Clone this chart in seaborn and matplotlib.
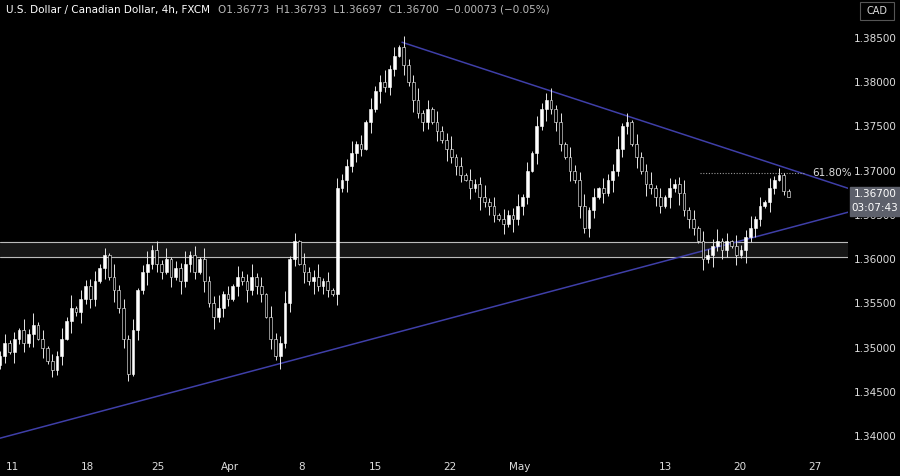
import numpy as np
import pandas as pd
import matplotlib
matplotlib.use("Agg")
import matplotlib.pyplot as plt
import seaborn as sns

# closes in pips (1.3490 -> 13490), one candle every ~8h
close_pips = [13490, 13505, 13495, 13510, 13520, 13505, 13515, 13525, 13510, 13500,
              13485, 13475, 13490, 13510, 13530, 13545, 13540, 13555, 13570, 13555,
              13575, 13590, 13605, 13580, 13565, 13545, 13510, 13470, 13520, 13565,
              13585, 13595, 13610, 13595, 13585, 13600, 13580, 13590, 13575, 13595,
              13605, 13585, 13600, 13575, 13550, 13535, 13545, 13560, 13555, 13570,
              13580, 13575, 13565, 13580, 13570, 13560, 13535, 13510, 13490, 13505,
              13550, 13600, 13620, 13595, 13585, 13575, 13580, 13570, 13575, 13565,
              13560, 13680, 13690, 13705, 13720, 13730, 13725, 13755, 13770, 13790,
              13800, 13795, 13815, 13830, 13840, 13820, 13800, 13780, 13765, 13755,
              13770, 13755, 13745, 13735, 13725, 13715, 13705, 13695, 13690, 13680,
              13685, 13670, 13665, 13660, 13650, 13645, 13640, 13650, 13645, 13660,
              13670, 13700, 13720, 13750, 13770, 13780, 13770, 13755, 13730, 13715,
              13700, 13690, 13660, 13635, 13655, 13670, 13680, 13675, 13690, 13700,
              13725, 13750, 13755, 13730, 13715, 13700, 13685, 13680, 13670, 13660,
              13670, 13680, 13685, 13675, 13655, 13645, 13635, 13620, 13600, 13605,
              13615, 13620, 13610, 13620, 13615, 13605, 13610, 13625, 13635, 13645,
              13660, 13665, 13680, 13690, 13695, 13677]
open_first = 13480
# wick lengths, 2 pips per digit
wick_up = "3524163725143627153462417352614735261437251634725163472516347251634" \
          "7251634725163472516347251634725163472516347251634725163472516347251" \
          "63472516347251634725163472516241"
wick_dn = "2416352716243517263541627354162735416273541627354162735416273541627" \
          "3541627354162735416273541627354162735416273541627354162735416273541" \
          "62735416273541627354162735416312"
last_bar = [1.36773, 1.36793, 1.36697, 1.36700]  # open, high, low, close

y_ticks = [1.340, 1.345, 1.350, 1.355, 1.360, 1.365, 1.370, 1.375, 1.380, 1.385]
x_labels = ["11", "18", "25", "Apr", "8", "15", "22", "May", "13", "20", "27"]
x_label_px = [12, 87, 158, 230, 302, 375, 450, 520, 665, 740, 815]

closes = np.array(close_pips) / 10000
opens = np.concatenate([[open_first / 10000], closes[:-1]])
n = len(closes)
up = np.array([int(c) for c in wick_up[:n]]) * 0.0002
dn = np.array([int(c) for c in wick_dn[:n]]) * 0.0002
df = pd.DataFrame({"k": np.arange(n), "open": opens, "close": closes})
df["high"] = df[["open", "close"]].max(axis=1) + up
df["low"] = df[["open", "close"]].min(axis=1) - dn
# append the live bar
df.loc[n] = [n, *last_bar[:1], last_bar[3], last_bar[1], last_bar[2]]

sns.set_theme(style="dark", rc={"axes.facecolor": "#000000", "figure.facecolor": "#000000"})
plt.rcParams["font.family"] = ["DejaVu Sans"]

fig = plt.figure(figsize=(9, 4.76), dpi=100)
ax = fig.add_axes([0, 21 / 476, 848 / 900, 455 / 476])
px = 4.75  # pixels per candle
ax.set_xlim(0, 848 / px)
ymin = 1.3850 - (455 - 38) / 8844
ymax = 1.3850 + 38 / 8844
ax.set_ylim(ymin, ymax)

# support zone
ax.axhspan(1.36022, 1.36192, color="#161616", zorder=0)
ax.axhline(1.36192, color="#bbbbbb", lw=0.8, zorder=1)
ax.axhline(1.36022, color="#bbbbbb", lw=0.8, zorder=1)

# trend lines
tl = pd.DataFrame({"k": [402 / px, 848 / px], "p": [1.38452, 1.36801]})
bl = pd.DataFrame({"k": [0, 848 / px], "p": [1.33975, 1.36530]})
sns.lineplot(data=tl, x="k", y="p", ax=ax, color="#3f3fa8", lw=1.1, zorder=2)
sns.lineplot(data=bl, x="k", y="p", ax=ax, color="#3f3fa8", lw=1.1, zorder=2)

# fib level
ax.hlines(1.36975, 700 / px, 805 / px, color="#999999", lw=0.8, linestyles=(0, (1, 1.5)), zorder=2)
ax.text(812 / px, 1.36975, "61.80%", color="#dddddd", fontsize=7.5, va="center", zorder=5)

# candles
ax.vlines(df["k"], df["low"], df["high"], color="#e6e6e6", lw=0.7, zorder=3)
bull = df["close"] >= df["open"]
h = (df["close"] - df["open"]).abs().clip(lower=0.00008)
bot = df[["open", "close"]].min(axis=1)
ax.bar(df["k"][bull], h[bull], bottom=bot[bull], width=0.55, color="#ffffff",
       edgecolor="#ffffff", lw=0.4, zorder=4)
ax.bar(df["k"][~bull], h[~bull], bottom=bot[~bull], width=0.55, color="#000000",
       edgecolor="#ffffff", lw=0.4, zorder=4)

# axes styling
for s in ax.spines.values():
    s.set_visible(False)
ax.set_xlabel("")
ax.set_ylabel("")
ax.yaxis.tick_right()
ax.set_yticks(y_ticks)
ax.set_yticklabels([f"{v:.5f}" for v in y_ticks], color="#dddddd", fontsize=7.5)
ax.set_xticks([p / px for p in x_label_px])
ax.set_xticklabels(x_labels, color="#dddddd", fontsize=7.5)
ax.tick_params(axis="y", length=0, pad=4)
ax.tick_params(axis="x", length=0, pad=5)
ax.grid(False)

# price label
fig.patches.append(plt.Rectangle((850 / 900, 1 - 216 / 476), 50 / 900, 29 / 476,
                                 transform=fig.transFigure, color="#5d606b", zorder=10))
fig.text(875 / 900, 1 - 194 / 476, "1.36700", color="#ffffff", fontsize=7.5, ha="center", va="center", zorder=11)
fig.text(875 / 900, 1 - 208 / 476, "03:07:43", color="#ffffff", fontsize=7.5, ha="center", va="center", zorder=11)

# header
t1 = fig.text(6 / 900, 1 - 10 / 476, "U.S. Dollar / Canadian Dollar, 4h, FXCM", color="#ffffff",
              fontsize=7.5, va="center")
fig.canvas.draw()
bb = t1.get_window_extent()
fig.text(bb.x1 / 900 + 8 / 900, 1 - 10 / 476,
         "O1.36773  H1.36793  L1.36697  C1.36700  \u22120.00073 (\u22120.05%)",
         color="#bbbbbb", fontsize=7.5, va="center")
fig.patches.append(plt.Rectangle((860 / 900, 1 - 20 / 476), 34 / 900, 18 / 476,
                                 transform=fig.transFigure, facecolor="#000000", edgecolor="#555555", lw=0.8))
fig.text(877 / 900, 1 - 11 / 476, "CAD", color="#dddddd", fontsize=7, ha="center", va="center")

fig.savefig("out.png", dpi=100, facecolor="#000000")
